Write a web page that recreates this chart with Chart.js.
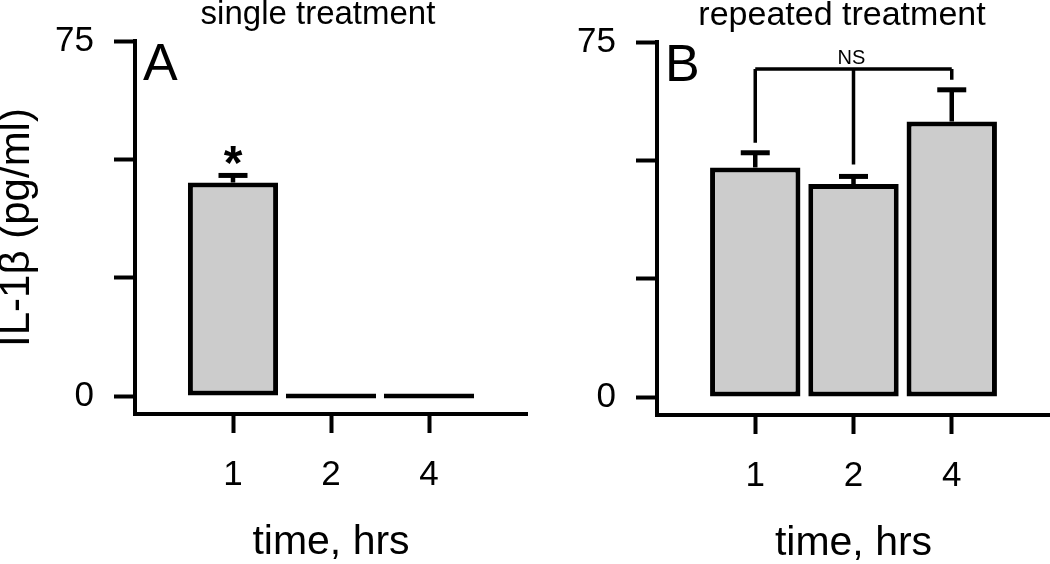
<!DOCTYPE html>
<html>
<head>
<meta charset="utf-8">
<script src="https://cdn.jsdelivr.net/npm/chart.js@4.4.1/dist/chart.umd.min.js"></script>
<style>
  html, body { margin: 0; padding: 0; background: #fff; }
  #wrap { position: relative; width: 1050px; height: 564px; overflow: hidden; }
  #chartA { position: absolute; left: 0; top: 0; }
  #chartB { position: absolute; left: 525px; top: 1px; }
</style>
</head>
<body>
<div id="wrap">
  <canvas id="chartA" width="530" height="564"></canvas>
  <canvas id="chartB" width="525" height="564"></canvas>
</div>
<script>
// ================= Data =================
const timeLabels = ['1', '2', '4'];
const singleMeans = [45.1, 0, 0];
const singleSEM = [1.5, null, null];
const repeatedMeans = [48.5, 45.0, 58.2];
const repeatedSEM = [3.1, 1.6, 6.7];
const yTicks = [0, 25, 50, 75];
const yLabelled = [0, 75];

// annotations (data units)
const starLevel = 51.0;      // "*" above first bar of A
const nsLevel = 69.3;        // NS bracket height in B
const nsDrops = [53.7, 49.1, 67.0];

const FONT = "'Liberation Sans', Arial, Helvetica, sans-serif";
Chart.defaults.font.family = FONT;
Chart.defaults.color = '#000';

// ================= Error bars + annotations =================
const errorBars = {
  id: 'errorBars',
  afterDatasetsDraw(chart, args, opts) {
    const { ctx } = chart;
    const y = chart.scales.y;
    const meta = chart.getDatasetMeta(0);
    const data = chart.data.datasets[0].data;
    ctx.save();
    ctx.strokeStyle = '#000';
    meta.data.forEach((bar, i) => {
      const sem = opts.sem[i];
      if (sem == null) return;
      const top = y.getPixelForValue(data[i].y + sem);
      ctx.lineWidth = 4.5;
      ctx.beginPath();
      ctx.moveTo(bar.x, bar.y);
      ctx.lineTo(bar.x, top);
      ctx.stroke();
      ctx.lineWidth = 5;
      ctx.beginPath();
      ctx.moveTo(bar.x - 14.5, top);
      ctx.lineTo(bar.x + 14.5, top);
      ctx.stroke();
    });
    ctx.restore();
  }
};

const panelText = {
  id: 'panelText',
  afterDraw(chart, args, opts) {
    const { ctx } = chart;
    const y = chart.scales.y;
    const meta = chart.getDatasetMeta(0);
    ctx.save();
    ctx.fillStyle = '#000';
    ctx.textBaseline = 'alphabetic';

    // title
    ctx.font = opts.titleSize + 'px ' + FONT;
    ctx.textAlign = 'center';
    ctx.fillText(opts.title, opts.titleX, 24);

    // panel letter
    ctx.font = '52px ' + FONT;
    ctx.textAlign = 'left';
    ctx.fillText(opts.letter, chart.chartArea.left + 8, 80);

    if (opts.star) {
      ctx.font = 'bold 48px ' + FONT;
      ctx.textAlign = 'center';
      const m = ctx.measureText('*');
      const cy = y.getPixelForValue(starLevel);
      const base = cy + (m.actualBoundingBoxAscent - m.actualBoundingBoxDescent) / 2;
      ctx.fillText('*', meta.data[0].x, base);
    }

    if (opts.bracket) {
      const yl = y.getPixelForValue(nsLevel);
      ctx.strokeStyle = '#000';
      ctx.lineWidth = 3.5;
      ctx.beginPath();
      ctx.moveTo(meta.data[0].x, yl);
      ctx.lineTo(meta.data[2].x, yl);
      meta.data.forEach((bar, i) => {
        ctx.moveTo(bar.x, yl);
        ctx.lineTo(bar.x, y.getPixelForValue(nsDrops[i]));
      });
      ctx.stroke();
      ctx.font = '20px ' + FONT;
      ctx.textAlign = 'center';
      ctx.fillText('NS', meta.data[1].x - 2, yl - 5);
    }
    ctx.restore();
  }
};

function makePanel(canvasId, means, sem, leftWidth, padRight, text, showYTitle) {
  const ctx = document.getElementById(canvasId).getContext('2d');
  return new Chart(ctx, {
    type: 'bar',
    data: {
      datasets: [{
        data: means.map((v, i) => ({ x: i + 1, y: v })),
        backgroundColor: '#cccccc',
        borderColor: '#000',
        borderWidth: 5,
        borderSkipped: false,
        minBarLength: 5,
        barPercentage: 0.92,
        categoryPercentage: 1
      }]
    },
    options: {
      responsive: false,
      animation: false,
      events: [],
      layout: { padding: { top: 40, right: padRight, left: 0, bottom: 0 } },
      plugins: {
        legend: { display: false },
        tooltip: { enabled: false },
        errorBars: { sem },
        panelText: text
      },
      scales: {
        x: {
          type: 'linear',
          min: 0,
          max: 4,
          offset: false,
          afterBuildTicks: s => { s.ticks = timeLabels.map((_, i) => ({ value: i + 1 })); },
          afterFit: s => { s.height = 564 - 414; },
          border: { display: true, color: '#000', width: 4 },
          grid: { offset: false, drawOnChartArea: false, drawTicks: true, tickLength: 19, tickWidth: 4, tickColor: '#000' },
          ticks: {
            callback: v => timeLabels[v - 1] || '',
            color: '#000',
            font: { size: 35 },
            padding: 21,
            maxRotation: 0,
            autoSkip: false
          },
          title: {
            display: true,
            text: 'time, hrs',
            color: '#000',
            font: { size: 41, lineHeight: 1 },
            padding: { top: 0, bottom: 1 }
          }
        },
        y: {
          min: -3.8,
          max: 75,
          afterBuildTicks: s => { s.ticks = yTicks.map(v => ({ value: v })); },
          afterFit: s => { s.width = leftWidth; },
          border: { display: true, color: '#000', width: 4 },
          grid: { drawOnChartArea: false, drawTicks: true, tickLength: 21, tickWidth: 4, tickColor: '#000' },
          ticks: {
            callback: v => yLabelled.includes(v) ? String(v) : '',
            color: '#000',
            font: { size: 35 },
            padding: 20
          },
          title: {
            display: showYTitle,
            text: 'IL-1β (pg/ml)',
            color: '#000',
            font: { size: 42, lineHeight: 0.83 },
            padding: 0
          }
        }
      }
    },
    plugins: [errorBars, panelText]
  });
}

makePanel('chartA', singleMeans, singleSEM, 135, 3,
  { title: 'single treatment', titleX: 318, titleSize: 33, letter: 'A', star: true, bracket: false }, true);
makePanel('chartB', repeatedMeans, repeatedSEM, 132, 0,
  { title: 'repeated treatment', titleX: 842 - 525, titleSize: 34, letter: 'B', star: false, bracket: true }, false);
</script>
</body>
</html>
